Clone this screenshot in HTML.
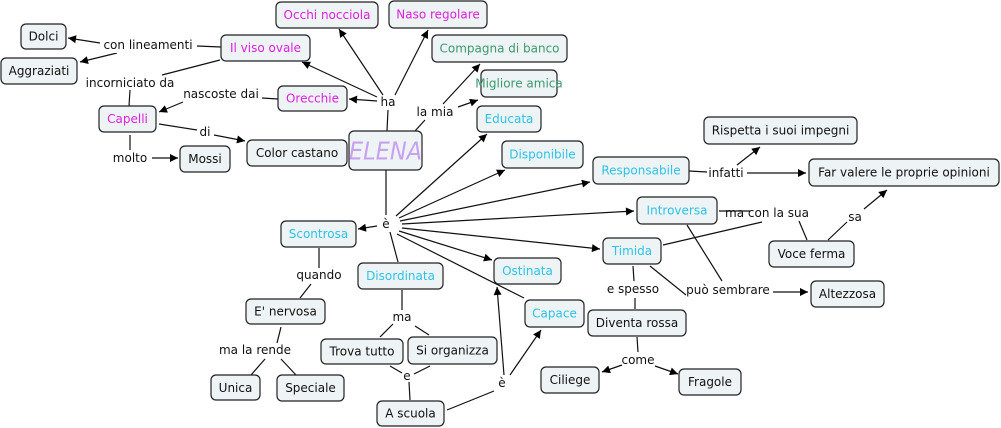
<!DOCTYPE html>
<html><head><meta charset="utf-8"><style>
html,body{margin:0;padding:0;background:#fff;}
svg{display:block;}
text{font-family:"DejaVu Sans","Liberation Sans",sans-serif;font-size:12px;}
.n rect{fill:#eef3f5;stroke:#222;stroke-width:1.2;}
.n text{text-anchor:middle;dominant-baseline:central;fill:#111;}
.m text{fill:#e021e0;} .g text{fill:#3e9a6e;} .c text{fill:#2ec3ea;}
.l{text-anchor:middle;dominant-baseline:central;fill:#111;}
line{stroke:#111;stroke-width:1.2;}
line.a{marker-end:url(#ar);}
</style></head><body>
<svg width="1001" height="428" viewBox="0 0 1001 428">
<defs><marker id="ar" viewBox="0 0 10 10" refX="10" refY="5" markerWidth="10" markerHeight="8" markerUnits="userSpaceOnUse" orient="auto"><path d="M0,0L10,5L0,10z" fill="#000"/></marker></defs>
<!-- lines -->
<line x1="221" y1="47" x2="197" y2="46"/>
<line class="a" x1="100" y1="43" x2="68" y2="38"/>
<line class="a" x1="117" y1="53" x2="80" y2="62"/>
<line x1="220" y1="60" x2="162" y2="75"/>
<line x1="130" y1="90" x2="129" y2="106"/>
<line x1="278" y1="99" x2="262" y2="98"/>
<line class="a" x1="183" y1="102" x2="159" y2="112"/>
<line x1="159" y1="124" x2="197" y2="130"/>
<line class="a" x1="214" y1="135" x2="245" y2="141"/>
<line x1="130" y1="135" x2="130" y2="150"/>
<line class="a" x1="152" y1="158" x2="178" y2="158"/>
<line x1="387" y1="131" x2="388" y2="110"/>
<line class="a" x1="377" y1="101" x2="349" y2="99"/>
<line class="a" x1="377" y1="97" x2="302" y2="62"/>
<line class="a" x1="383" y1="95" x2="339" y2="29"/>
<line class="a" x1="395" y1="95" x2="428" y2="30"/>
<line x1="415" y1="131" x2="425" y2="120"/>
<line class="a" x1="443" y1="104" x2="480" y2="64"/>
<line class="a" x1="458" y1="107" x2="478" y2="100"/>
<line x1="386" y1="170" x2="386" y2="215"/>
<line class="a" x1="396" y1="216" x2="487" y2="134"/>
<line class="a" x1="399" y1="218" x2="505" y2="170"/>
<line class="a" x1="400" y1="221" x2="590" y2="182"/>
<line class="a" x1="402" y1="224" x2="634" y2="211"/>
<line class="a" x1="402" y1="228" x2="600" y2="249"/>
<line class="a" x1="399" y1="231" x2="492" y2="260"/>
<line x1="397" y1="234" x2="524" y2="298"/>
<line class="a" x1="377" y1="226" x2="358" y2="229"/>
<line x1="390" y1="232" x2="398" y2="262"/>
<line x1="319" y1="248" x2="319" y2="268"/>
<line x1="311" y1="284" x2="300" y2="298"/>
<line x1="281" y1="327" x2="277" y2="343"/>
<line x1="265" y1="359" x2="251" y2="375"/>
<line x1="281" y1="359" x2="296" y2="375"/>
<line x1="402" y1="290" x2="402" y2="310"/>
<line x1="393" y1="324" x2="380" y2="337"/>
<line x1="415" y1="326" x2="429" y2="335"/>
<line x1="390" y1="366" x2="402" y2="373"/>
<line x1="430" y1="366" x2="414" y2="374"/>
<line x1="409" y1="382" x2="410" y2="400"/>
<line x1="447" y1="410" x2="494" y2="391"/>
<line class="a" x1="504" y1="375" x2="497" y2="287"/>
<line class="a" x1="510" y1="375" x2="541" y2="330"/>
<line x1="689" y1="171" x2="707" y2="172"/>
<line class="a" x1="737" y1="165" x2="760" y2="147"/>
<line class="a" x1="747" y1="173" x2="806" y2="173"/>
<line x1="719" y1="211" x2="750" y2="211"/>
<line x1="663" y1="245" x2="762" y2="222"/>
<line x1="807" y1="240" x2="799" y2="221"/>
<line x1="828" y1="240" x2="847" y2="222"/>
<line class="a" x1="864" y1="209" x2="887" y2="190"/>
<line x1="687" y1="225" x2="722" y2="281"/>
<line x1="650" y1="266" x2="686" y2="295"/>
<line class="a" x1="773" y1="292" x2="808" y2="292"/>
<line x1="633" y1="266" x2="634" y2="281"/>
<line x1="635" y1="298" x2="635" y2="309"/>
<line x1="637" y1="337" x2="638" y2="352"/>
<line class="a" x1="622" y1="365" x2="602" y2="372"/>
<line class="a" x1="655" y1="366" x2="678" y2="374"/>
<!-- link labels -->
<g>
<rect x="100" y="37" width="97" height="16" fill="#fff"/><text class="l" x="148" y="45">con lineamenti</text>
<text class="l" x="130" y="83">incorniciato da</text>
<text class="l" x="221" y="94">nascoste dai</text>
<text class="l" x="388" y="102">ha</text>
<text class="l" x="435" y="112">la mia</text>
<text class="l" x="205" y="132">di</text>
<text class="l" x="130" y="158">molto</text>
<text class="l" x="726" y="173">infatti</text>
<text class="l" x="767" y="213">ma con la sua</text>
<text class="l" x="855" y="217">sa</text>
<text class="l" x="386" y="224">è</text>
<text class="l" x="319" y="275">quando</text>
<text class="l" x="633" y="289">e spesso</text>
<text class="l" x="728" y="290">può sembrare</text>
<text class="l" x="402" y="317">ma</text>
<text class="l" x="255" y="350">ma la rende</text>
<text class="l" x="407" y="376">e</text>
<text class="l" x="502" y="383">è</text>
<text class="l" x="638" y="360">come</text>
</g>
<!-- nodes -->
<g class="n"><rect x="21" y="24" width="45" height="25" rx="5"/><text x="43.5" y="36.5">Dolci</text></g>
<g class="n"><rect x="1" y="58" width="76" height="26" rx="5"/><text x="39" y="71">Aggraziati</text></g>
<g class="n m"><rect x="221" y="35" width="89" height="26" rx="5"/><text x="265.5" y="48">Il viso ovale</text></g>
<g class="n m"><rect x="276" y="2" width="102" height="26" rx="5"/><text x="327" y="15">Occhi nocciola</text></g>
<g class="n m"><rect x="389" y="1" width="98" height="27" rx="5"/><text x="438" y="14.5">Naso regolare</text></g>
<g class="n g"><rect x="432" y="35" width="135" height="27" rx="5"/><text x="499.5" y="48.5">Compagna di banco</text></g>
<g class="n g"><rect x="481" y="70" width="76" height="27" rx="5"/><text x="519" y="83.5">Migliore amica</text></g>
<g class="n c"><rect x="477" y="106" width="64" height="26" rx="5"/><text x="509" y="119">Educata</text></g>
<g class="n m"><rect x="278" y="86" width="69" height="25" rx="5"/><text x="312.5" y="98.5">Orecchie</text></g>
<g class="n m"><rect x="99" y="106" width="57" height="26" rx="5"/><text x="127.5" y="119">Capelli</text></g>
<g class="n"><rect x="247" y="140" width="100" height="26" rx="5"/><text x="297" y="153">Color castano</text></g>
<g class="n"><rect x="349" y="131" width="73" height="39" rx="5"/><text x="385.5" y="151" style="font-size:25px;font-style:italic;fill:#c8a2f0;font-family:'DejaVu Sans Condensed','DejaVu Sans',sans-serif;font-weight:300">ELENA</text></g>
<g class="n"><rect x="180" y="146" width="50" height="26" rx="5"/><text x="205" y="159">Mossi</text></g>
<g class="n c"><rect x="502" y="141" width="81" height="27" rx="5"/><text x="542.5" y="154.5">Disponibile</text></g>
<g class="n c"><rect x="593" y="157" width="96" height="27" rx="5"/><text x="641" y="170.5">Responsabile</text></g>
<g class="n"><rect x="704" y="117" width="153" height="27" rx="5"/><text x="780.5" y="130.5">Rispetta i suoi impegni</text></g>
<g class="n"><rect x="809" y="159" width="190" height="27" rx="5"/><text x="904" y="172.5">Far valere le proprie opinioni</text></g>
<g class="n c"><rect x="637" y="197" width="80" height="27" rx="5"/><text x="677" y="210.5">Introversa</text></g>
<g class="n c"><rect x="603" y="238" width="58" height="26" rx="5"/><text x="632" y="251">Timida</text></g>
<g class="n"><rect x="769" y="241" width="85" height="26" rx="5"/><text x="811.5" y="254">Voce ferma</text></g>
<g class="n"><rect x="811" y="281" width="73" height="26" rx="5"/><text x="847.5" y="294">Altezzosa</text></g>
<g class="n c"><rect x="281" y="221" width="75" height="26" rx="5"/><text x="318.5" y="234">Scontrosa</text></g>
<g class="n c"><rect x="358" y="263" width="85" height="26" rx="5"/><text x="400.5" y="276">Disordinata</text></g>
<g class="n c"><rect x="494" y="258" width="67" height="26" rx="5"/><text x="527.5" y="271">Ostinata</text></g>
<g class="n c"><rect x="525" y="300" width="59" height="27" rx="5"/><text x="554.5" y="313.5">Capace</text></g>
<g class="n"><rect x="588" y="310" width="98" height="26" rx="5"/><text x="637" y="323">Diventa rossa</text></g>
<g class="n"><rect x="246" y="299" width="79" height="25" rx="5"/><text x="285.5" y="311.5">E' nervosa</text></g>
<g class="n"><rect x="321" y="339" width="82" height="25" rx="5"/><text x="362" y="351.5">Trova tutto</text></g>
<g class="n"><rect x="408" y="337" width="89" height="27" rx="5"/><text x="452.5" y="350.5">Si organizza</text></g>
<g class="n"><rect x="211" y="375" width="49" height="25" rx="5"/><text x="235.5" y="388">Unica</text></g>
<g class="n"><rect x="277" y="375" width="67" height="26" rx="5"/><text x="310.5" y="388">Speciale</text></g>
<g class="n"><rect x="541" y="367" width="58" height="26" rx="5"/><text x="570" y="380">Ciliege</text></g>
<g class="n"><rect x="679" y="369" width="62" height="26" rx="5"/><text x="710" y="382">Fragole</text></g>
<g class="n"><rect x="377" y="401" width="67" height="25" rx="5"/><text x="410.5" y="413.5">A scuola</text></g>
</svg>
</body></html>
